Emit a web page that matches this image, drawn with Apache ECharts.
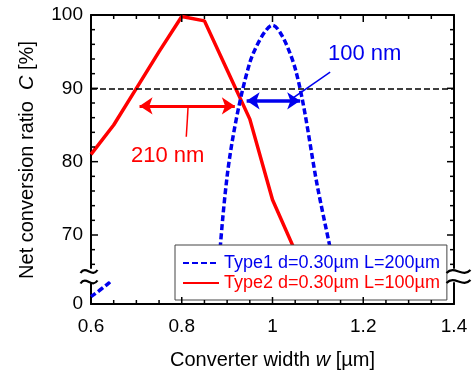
<!DOCTYPE html>
<html>
<head>
<meta charset="utf-8">
<script src="https://cdn.jsdelivr.net/npm/echarts@6/dist/echarts.min.js"></script>
<style>
  html, body { margin: 0; padding: 0; background: #fff; }
  #chart { width: 472px; height: 374px; }
</style>
</head>
<body>
<div id="chart"></div>
<script>
  // converter width w [um] and net conversion ratio C [%]
  const widthsType1 = [0.6, 0.65, 0.7, 0.75, 0.8, 0.85, 0.9, 0.95, 1.0, 1.05, 1.1, 1.15, 1.2];
  const convType1 = [1.0, 3.5, 8, 15, 24, 42, 78, 93.5, 98.6, 92.7, 76.3, 61, 40];
  const widthsType2 = [0.6, 0.65, 0.7, 0.75, 0.8, 0.85, 0.9, 0.95, 1.0, 1.05, 1.1];
  const convType2 = [81.0, 85.0, 90.0, 95.0, 99.8, 99.2, 92.5, 85.8, 74.8, 67.8, 58];

  const xMajor = [0.6, 0.8, 1.0, 1.2, 1.4];
  const xMinor = [0.65, 0.7, 0.75, 0.85, 0.9, 0.95, 1.05, 1.1, 1.15, 1.25, 1.3, 1.35];
  const yMajor = [70, 80, 90, 100];
  const yMinor = [66, 68, 72, 74, 76, 78, 82, 84, 86, 88, 92, 94, 96, 98];
  const yLowLabels = [0];

  const threshold = 90;
  const redArrow = [[0.707, 87.6], [0.917, 87.6]];
  const redLeader = [[0.814, 87.5], [0.810, 83.4]];
  const blueArrow = [[0.943, 88.3], [1.061, 88.3]];
  const blueLeader = [[1.043, 88.6], [1.127, 92.2]];
  const redNote = [0.769, 80.8];
  const blueNote = [1.203, 94.7];

  const name1 = 'Type1 d=0.30\u00b5m L=200\u00b5m';
  const name2 = 'Type2 d=0.30\u00b5m L=100\u00b5m';
  const RED = '#ff0000';
  const BLUE = '#0000ee';
  const FONT = 'Liberation Sans, Arial, sans-serif';

  const X_MIN = 0.6, X_MAX = 1.4;
  const UP_MIN = 65.5, UP_MAX = 100;
  const LOW_MIN = 0, LOW_MAX = 2.86;

  const type1 = widthsType1.map((w, i) => [w, convType1[i]]);
  const type2 = widthsType2.map((w, i) => [w, convType2[i]]);

  function xAxis(grid, pos, labels) {
    return {
      type: 'value', gridIndex: grid, position: pos,
      min: X_MIN, max: X_MAX, interval: 0.2,
      axisLine: { show: true, lineStyle: { color: '#000', width: 2 } },
      axisTick: { show: false },
      axisLabel: {
        show: labels, color: '#000', fontSize: 19, fontFamily: FONT, margin: 13,
        formatter: v => String(Math.round(v * 10) / 10)
      },
      splitLine: { show: false }
    };
  }

  function yAxis(grid, pos, min, max, labels) {
    return {
      type: 'value', gridIndex: grid, position: pos, min: min, max: max,
      axisLine: { show: true, lineStyle: { color: '#000', width: 2 } },
      axisTick: { show: false },
      axisLabel: labels
        ? { show: true, color: '#000', fontSize: 19, fontFamily: FONT, margin: 8, customValues: labels }
        : { show: false },
      splitLine: { show: false }
    };
  }

  function tilde(cx, cy, w) {
    return {
      type: 'bezierCurve', z: 100, silent: true,
      shape: {
        x1: cx - w / 2, y1: cy + 1.5, x2: cx + w / 2, y2: cy - 1.5,
        cpx1: cx - w / 6, cpy1: cy - 7, cpx2: cx + w / 6, cpy2: cy + 7
      },
      style: { stroke: '#000', lineWidth: 2.2, fill: null }
    };
  }

  const richTitle = {
    a: { fontSize: 20, fontFamily: FONT, fill: '#000' },
    i: { fontSize: 20, fontFamily: FONT, fontStyle: 'italic', fill: '#000' }
  };

  const chart = echarts.init(document.getElementById('chart'));
  chart.setOption({
    animation: false,
    grid: [
      { left: 91, right: 18, top: 15, height: 253 },
      { left: 91, right: 18, top: 283, height: 21 }
    ],
    xAxis: [xAxis(0, 'top', false), xAxis(1, 'bottom', true)],
    yAxis: [
      yAxis(0, 'left', UP_MIN, UP_MAX, yMajor),
      yAxis(0, 'right', UP_MIN, UP_MAX, null),
      yAxis(1, 'left', LOW_MIN, LOW_MAX, yLowLabels),
      yAxis(1, 'right', LOW_MIN, LOW_MAX, null)
    ],
    legend: {
      orient: 'vertical', left: 175, top: 245,
      padding: [9, 7, 8, 7], itemGap: 2, itemWidth: 36, itemHeight: 14,
      backgroundColor: '#fff', borderColor: '#444', borderWidth: 1,
      itemStyle: { opacity: 0 },
      textStyle: { fontSize: 18, fontFamily: FONT },
      data: [
        { name: name1, textStyle: { color: BLUE } },
        { name: name2, textStyle: { color: RED } }
      ]
    },
    series: [
      {
        name: name2, type: 'line', xAxisIndex: 0, yAxisIndex: 0,
        data: type2, symbol: 'none',
        lineStyle: { color: RED, width: 3.5 }, itemStyle: { color: RED },
        markLine: {
          silent: true, label: { show: false }, symbol: 'none',
          data: [
            { yAxis: threshold, lineStyle: { color: '#000', width: 1.5, type: [6, 3] } },
            [
              { coord: redArrow[0], symbol: 'arrow', symbolSize: 13, lineStyle: { color: RED, width: 3, type: 'solid' } },
              { coord: redArrow[1], symbol: 'arrow', symbolSize: 13 }
            ],
            [
              { coord: redLeader[0], symbol: 'none', lineStyle: { color: RED, width: 1.5, type: 'solid' } },
              { coord: redLeader[1], symbol: 'none' }
            ]
          ]
        },
        markPoint: {
          silent: true,
          data: [{
            coord: redNote, symbol: 'circle', symbolSize: 0,
            label: { show: true, position: 'inside', formatter: '210 nm', color: RED, fontSize: 22, fontFamily: FONT }
          }]
        }
      },
      {
        name: name1, type: 'line', xAxisIndex: 0, yAxisIndex: 0,
        data: type1, symbol: 'none', smooth: 0.3,
        lineStyle: { color: BLUE, width: 3.5, type: [6, 3] }, itemStyle: { color: BLUE },
        markLine: {
          silent: true, label: { show: false },
          data: [
            [
              { coord: blueArrow[0], symbol: 'arrow', symbolSize: 13, lineStyle: { color: BLUE, width: 3.5, type: 'solid' } },
              { coord: blueArrow[1], symbol: 'arrow', symbolSize: 13 }
            ],
            [
              { coord: blueLeader[0], symbol: 'none', lineStyle: { color: BLUE, width: 1.5, type: 'solid' } },
              { coord: blueLeader[1], symbol: 'none' }
            ]
          ]
        },
        markPoint: {
          silent: true,
          data: [{
            coord: blueNote, symbol: 'circle', symbolSize: 0,
            label: { show: true, position: 'inside', formatter: '100 nm', color: BLUE, fontSize: 22, fontFamily: FONT }
          }]
        }
      },
      {
        name: name1, type: 'line', xAxisIndex: 1, yAxisIndex: 2,
        data: type1, symbol: 'none', smooth: 0.3,
        lineStyle: { color: BLUE, width: 3.5, type: [6, 3] }, itemStyle: { color: BLUE }
      },
      {
        name: name2, type: 'line', xAxisIndex: 1, yAxisIndex: 2,
        data: type2, symbol: 'none',
        lineStyle: { color: RED, width: 3.5 }, itemStyle: { color: RED }
      }
    ]
  });

  // inward tick marks, placed through the axes' scales
  const up = { xAxisIndex: 0, yAxisIndex: 0 };
  const low = { xAxisIndex: 1, yAxisIndex: 2 };
  function tickLine(p, dx, dy) {
    return {
      type: 'line', z: 90, silent: true,
      shape: { x1: p[0], y1: p[1], x2: p[0] + dx, y2: p[1] + dy },
      style: { stroke: '#000', lineWidth: 1.5 }
    };
  }
  const tickEls = [];
  xMajor.forEach(v => {
    tickEls.push(tickLine(chart.convertToPixel(up, [v, UP_MAX]), 0, 7));
    tickEls.push(tickLine(chart.convertToPixel(low, [v, LOW_MIN]), 0, -7));
  });
  xMinor.forEach(v => {
    tickEls.push(tickLine(chart.convertToPixel(up, [v, UP_MAX]), 0, 4));
    tickEls.push(tickLine(chart.convertToPixel(low, [v, LOW_MIN]), 0, -4));
  });
  yMajor.forEach(v => {
    tickEls.push(tickLine(chart.convertToPixel(up, [X_MIN, v]), 7, 0));
    tickEls.push(tickLine(chart.convertToPixel(up, [X_MAX, v]), -7, 0));
  });
  yMinor.forEach(v => {
    tickEls.push(tickLine(chart.convertToPixel(up, [X_MIN, v]), 4, 0));
    tickEls.push(tickLine(chart.convertToPixel(up, [X_MAX, v]), -4, 0));
  });

  chart.setOption({
    graphic: [
      {
        type: 'text', x: 27.5, y: 160, rotation: Math.PI / 2, silent: true,
        style: {
          text: '{a|Net conversion ratio  }{i|C}{a| [%]}',
          align: 'center', verticalAlign: 'middle', fill: '#000',
          font: '20px ' + FONT, rich: richTitle
        }
      },
      {
        type: 'text', x: 272.5, y: 360, silent: true,
        style: {
          text: '{a|Converter width }{i|w}{a| [\u00b5m]}',
          align: 'center', verticalAlign: 'middle', fill: '#000',
          font: '20px ' + FONT, rich: richTitle
        }
      },
      tilde(89, 271.5, 17),
      tilde(89, 282, 17),
      tilde(458.5, 271.5, 24),
      tilde(458.5, 281.5, 24)
    ].concat(tickEls)
  });
</script>
</body>
</html>
